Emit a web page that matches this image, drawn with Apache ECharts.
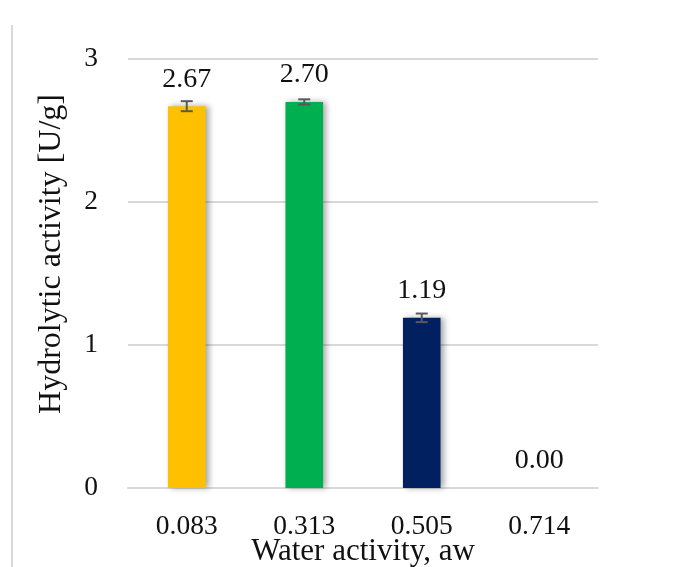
<!DOCTYPE html>
<html><head><meta charset="utf-8">
<script src="https://cdn.jsdelivr.net/npm/echarts@6/dist/echarts.min.js"></script>
<style>html,body{margin:0;padding:0;background:#fff}#c{width:686px;height:567px}</style>
</head><body><div id="c"></div>
<script>
const categories = ['0.083', '0.313', '0.505', '0.714'];
const values = [2.67, 2.70, 1.19, 0.00];
const errors = [0.035, 0.018, 0.03, 0];
const colors = ['#FFC000', '#00B050', '#002060', '#7F7F7F'];
const yTicks = [0, 1, 2, 3];
const xTitle = 'Water activity, aw';
const yTitle = 'Hydrolytic activity [U/g]';

const font = 'Liberation Serif';
const chart = echarts.init(document.getElementById('c'), null, {renderer: 'canvas'});
chart.setOption({
  backgroundColor: '#fff',
  animation: false,
  grid: {left: 128, right: 88, top: 59, bottom: 79, outerBoundsMode: 'none', containLabel: false},
  xAxis: {
    type: 'category', data: categories,
    axisLine: {lineStyle: {color: '#d9d9d9', width: 2}},
    axisTick: {show: false},
    axisLabel: {color: '#111', fontFamily: font, fontSize: 27.5, margin: 25}
  },
  yAxis: {
    type: 'value', min: yTicks[0], max: yTicks[yTicks.length - 1], interval: 1,
    axisLine: {show: false}, axisTick: {show: false},
    splitLine: {lineStyle: {color: '#d9d9d9', width: 2}},
    axisLabel: {color: '#111', fontFamily: font, fontSize: 27.5, margin: 30}
  },
  graphic: [
    {type: 'line', shape: {x1: 12, y1: 25, x2: 12, y2: 567}, style: {stroke: '#d9d9d9', lineWidth: 2}},
    {type: 'text', x: 52, y: 254, rotation: Math.PI / 2,
     style: {text: yTitle, fill: '#111', font: '32px "Liberation Serif"', textAlign: 'center', textVerticalAlign: 'middle'}},
    {type: 'text', x: 363, y: 552,
     style: {text: xTitle, fill: '#111', font: '31px "Liberation Serif"', textAlign: 'center', textVerticalAlign: 'middle'}}
  ],
  series: [
    {
      type: 'bar', barWidth: '32%',
      data: values.map((v, i) => ({value: v, itemStyle: {color: colors[i]}})),
      itemStyle: {shadowColor: 'rgba(0,0,0,0.35)', shadowBlur: 6, shadowOffsetX: 3, shadowOffsetY: 0},
      label: {show: true, position: 'top', distance: 13, color: '#111', fontFamily: font, fontSize: 28,
              formatter: p => p.value.toFixed(2)}
    },
    {
      type: 'custom',
      data: values.map((v, i) => [i, v, errors[i]]),
      renderItem: function (params, api) {
        const i = api.value(0), v = api.value(1), e = api.value(2);
        if (e <= 0) return null;
        const top = api.coord([i, v + e]);
        const bot = api.coord([i, v - e]);
        const hw = 6;
        const st = {stroke: '#595959', lineWidth: 2};
        return {type: 'group', children: [
          {type: 'line', shape: {x1: top[0], y1: top[1], x2: bot[0], y2: bot[1]}, style: st},
          {type: 'line', shape: {x1: top[0] - hw, y1: top[1], x2: top[0] + hw, y2: top[1]}, style: st},
          {type: 'line', shape: {x1: bot[0] - hw, y1: bot[1], x2: bot[0] + hw, y2: bot[1]}, style: st}
        ]};
      },
      z: 5
    }
  ]
});
</script></body></html>
